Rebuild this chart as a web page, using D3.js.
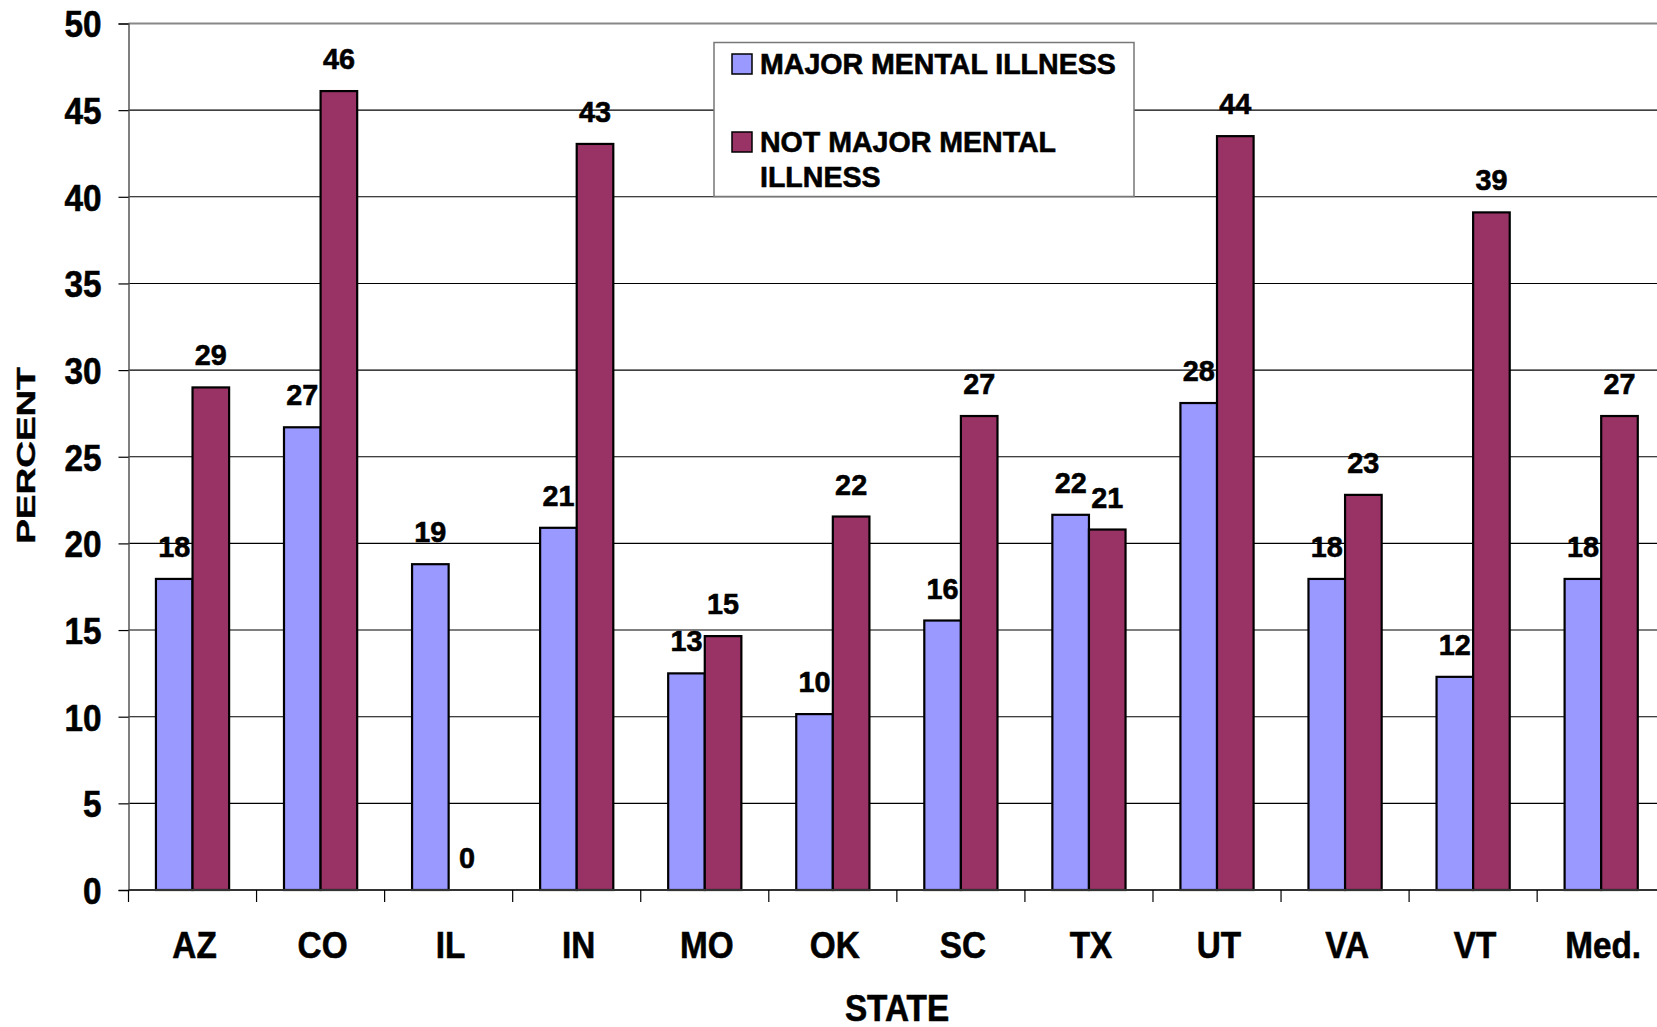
<!DOCTYPE html>
<html>
<head>
<meta charset="utf-8">
<script src="https://cdn.jsdelivr.net/npm/d3@7"></script>
<style>
  html, body { margin: 0; padding: 0; background: #fff; }
  svg { display: block; font-family: "Liberation Sans", Arial, sans-serif; }
  svg text { stroke: #000; stroke-width: 0.6px; paint-order: stroke; }
</style>
</head>
<body>
<svg id="chart" width="1657" height="1027"></svg>
<script>
// ---- data ----
const categories = ["AZ", "CO", "IL", "IN", "MO", "OK", "SC", "TX", "UT", "VA", "VT", "Med."];
const majorMentalIllness = [17.95, 26.7, 18.8, 20.9, 12.5, 10.15, 15.55, 21.65, 28.1, 17.95, 12.3, 17.95];
const notMajorMentalIllness = [29.0, 46.1, 0, 43.05, 14.65, 21.55, 27.35, 20.8, 43.5, 22.8, 39.1, 27.35];
const seriesNames = ["MAJOR MENTAL ILLNESS", "NOT MAJOR MENTAL ILLNESS"];
const yTicks = [0, 5, 10, 15, 20, 25, 30, 35, 40, 45, 50];

(function () {
// ---- layout ----
const svg = d3.select("#chart");
const plotLeft = 128.5, plotTop = 23.5, plotBottom = 890, step = 128.06;
const plotRight = plotLeft + step * categories.length;
const colors = ["#9999FF", "#993366"];

const x0 = d3.scaleBand().domain(categories).range([plotLeft, plotRight]).padding(0);
const x1 = d3.scaleBand().domain([0, 1]).range([0, x0.bandwidth()]).paddingInner(0).paddingOuter(0.75);
const y = d3.scaleLinear().domain([0, 50]).range([plotBottom, plotTop]);

const series = [majorMentalIllness, notMajorMentalIllness];

// gridlines
svg.append("g").selectAll("line").data(yTicks.filter(t => t > 0)).join("line")
  .attr("x1", plotLeft).attr("x2", plotRight)
  .attr("y1", d => y(d)).attr("y2", d => y(d))
  .attr("stroke", d => d === 50 ? "#888" : "#000")
  .attr("stroke-width", d => d === 50 ? 2.2 : 1.1);

// bars
const groups = svg.append("g").selectAll("g").data(categories).join("g")
  .attr("transform", c => `translate(${x0(c)},0)`);
groups.each(function(c, i) {
  const g = d3.select(this);
  [0, 1].forEach(s => {
    const v = series[s][i];
    if (v > 0) {
      g.append("rect")
        .attr("x", x1(s)).attr("width", x1.bandwidth())
        .attr("y", y(v)).attr("height", y(0) - y(v))
        .attr("fill", colors[s]).attr("stroke", "#000").attr("stroke-width", 2.2);
    }
    g.append("text")
      .attr("transform", `translate(${x1(s) + x1.bandwidth() / 2},${y(v) - 22}) scale(0.96,1)`)
      .attr("text-anchor", "middle")
      .attr("font-size", 30).attr("font-weight", "bold").attr("fill", "#000")
      .text(d3.format(".0f")(v));
  });
});

// y axis
const yAxis = svg.append("g").attr("transform", `translate(${plotLeft},0)`)
  .call(d3.axisLeft(y).tickValues(yTicks).tickSize(10).tickFormat(d3.format("d")));
yAxis.select(".domain").attr("stroke", "#555").attr("stroke-width", 1.5);
yAxis.selectAll(".tick line").attr("stroke", "#000").attr("stroke-width", 1.2);
yAxis.selectAll(".tick text")
  .attr("x", null).attr("dy", "0.36em")
  .attr("transform", "translate(-27,0) scale(0.9,1)")
  .attr("text-anchor", "end")
  .attr("font-size", 37).attr("font-weight", "bold").attr("fill", "#000");
yAxis.attr("font-family", null).attr("font-size", null);

// x axis baseline
svg.append("line").attr("x1", plotLeft).attr("x2", plotRight).attr("y1", plotBottom).attr("y2", plotBottom)
  .attr("stroke", "#333").attr("stroke-width", 2);
// x boundary ticks
svg.append("g").selectAll("line").data(categories).join("line")
  .attr("x1", c => x0(c)).attr("x2", c => x0(c))
  .attr("y1", plotBottom).attr("y2", plotBottom + 12)
  .attr("stroke", "#000").attr("stroke-width", 1.2);
// x labels
const xAxis = svg.append("g").attr("transform", `translate(0,${plotBottom})`)
  .call(d3.axisBottom(x0).tickSize(0));
xAxis.select(".domain").remove();
xAxis.attr("font-family", null).attr("font-size", null);
xAxis.selectAll(".tick text")
  .attr("y", null).attr("dy", null)
  .attr("transform", "translate(2,68) scale(0.9,1)")
  .attr("text-anchor", "middle")
  .attr("font-size", 37).attr("font-weight", "bold").attr("fill", "#000");

// axis titles
svg.append("text")
  .attr("transform", "translate(897,1020.5) scale(0.9,1)")
  .attr("text-anchor", "middle").attr("font-size", 37).attr("font-weight", "bold")
  .text("STATE");
svg.append("text")
  .attr("transform", "translate(35,455.5) rotate(-90) scale(1,0.68)")
  .attr("text-anchor", "middle").attr("font-size", 37).attr("font-weight", "bold")
  .text("PERCENT");

// legend
const lg = svg.append("g");
lg.append("rect").attr("x", 714).attr("y", 42.5).attr("width", 420).attr("height", 154)
  .attr("fill", "#fff").attr("stroke", "#777").attr("stroke-width", 1.5);
const legendItems = [
  { lines: [seriesNames[0]], sy: 54, base: [74.3] },
  { lines: ["NOT MAJOR MENTAL", "ILLNESS"], sy: 132, base: [151.7, 186.7] }
];
legendItems.forEach((it, i) => {
  lg.append("rect").attr("x", 732).attr("y", it.sy).attr("width", 20).attr("height", 20)
    .attr("fill", colors[i]).attr("stroke", "#000").attr("stroke-width", 1.5);
  it.lines.forEach((ln, j) => {
    lg.append("text")
      .attr("transform", `translate(760,${it.base[j]}) scale(0.985,1)`)
      .attr("font-size", 29).attr("font-weight", "bold").text(ln);
  });
});
})();
</script>
</body>
</html>
